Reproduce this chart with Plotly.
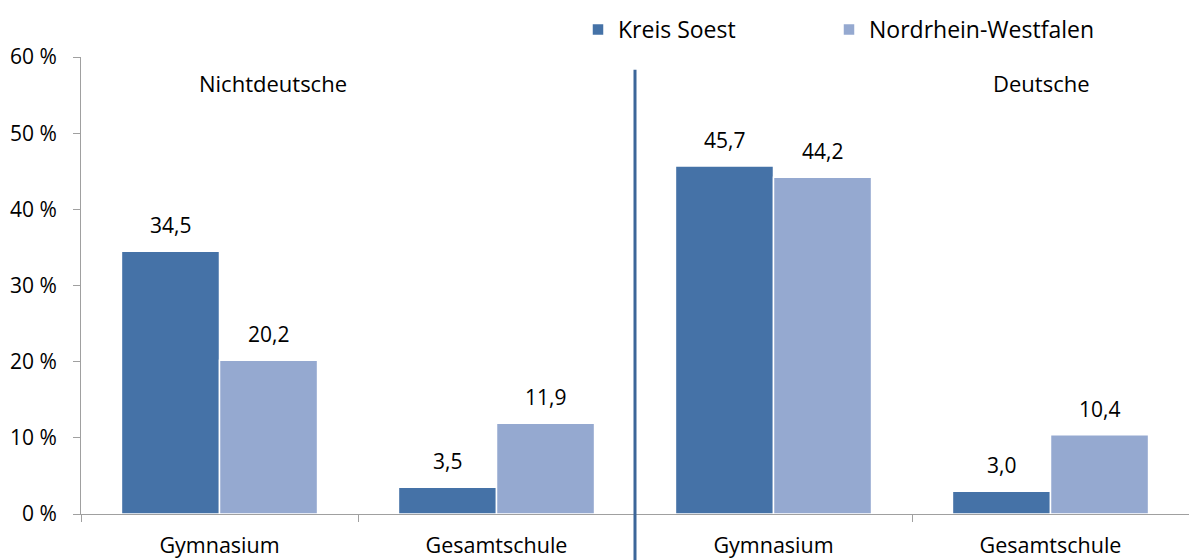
import plotly.graph_objects as go

categories = ["Gymnasium", "Gesamtschule", "Gymnasium", "Gesamtschule"]
kreis_soest = [34.5, 3.5, 45.7, 3.0]
nrw = [20.2, 11.9, 44.2, 10.4]
series_names = ["Kreis Soest", "Nordrhein-Westfalen"]
group_labels = ["Nichtdeutsche", "Deutsche"]
y_ticks = [0, 10, 20, 30, 40, 50, 60]

DARK = "#4572A7"
LIGHT = "#95A9D0"
FONT = "Open Sans"
BARGAP = 0.292

xpos = list(range(len(categories)))

def fmt(v):
    return f"{v:.1f}".replace(".", ",")

fig = go.Figure()
for name, vals, col, leg in [(series_names[0], kreis_soest, DARK, "legend"),
                             (series_names[1], nrw, LIGHT, "legend2")]:
    fig.add_trace(go.Bar(
        name=name, x=xpos, y=vals, legend=leg,
        marker=dict(color=col, line=dict(color="white", width=1.5)),
        hoverinfo="y",
    ))

half = (1 - BARGAP) / 4
for i, (a, b) in enumerate(zip(kreis_soest, nrw)):
    for off, v in [(-half, a), (half, b)]:
        fig.add_annotation(x=i + off, y=v, text=fmt(v), showarrow=False,
                           yanchor="bottom", yshift=10,
                           font=dict(family=FONT, size=21, color="black"))

fig.add_annotation(x=0.193, y=56.6, text=group_labels[0], showarrow=False,
                   font=dict(family=FONT, size=22, color="black"))
fig.add_annotation(x=2.966, y=56.6, text=group_labels[1], showarrow=False,
                   font=dict(family=FONT, size=22, color="black"))

# separator line between groups
fig.add_shape(type="line", xref="x", yref="paper", x0=1.5, x1=1.5, y0=-0.12, y1=0.972,
              line=dict(color="#3C6699", width=3), layer="above")

legend_common = dict(orientation="h", xref="container", xanchor="left",
                     yref="container", y=1.0, yanchor="top",
                     font=dict(family=FONT, size=23, color="black"),
                     bgcolor="rgba(0,0,0,0)")

fig.update_layout(
    width=1197, height=560,
    margin=dict(l=73, r=16, t=49, b=54, autoexpand=False),
    plot_bgcolor="white", paper_bgcolor="white",
    barmode="group", bargap=BARGAP, bargroupgap=0,
    font=dict(family=FONT, size=21, color="black"),
    showlegend=True,
    legend=dict(x=570 / 1197, **legend_common),
    legend2=dict(x=821 / 1197, **legend_common),
)
fig.update_xaxes(
    range=[-0.5, 3.5], tickvals=xpos, ticktext=categories,
    showline=True, linecolor="#A0A0A0", linewidth=1,
    ticks="", showgrid=False, zeroline=False, automargin=False,
    ticklabelstandoff=12,
    tickfont=dict(family=FONT, size=21.5, color="black"),
    minor=dict(tickvals=[-0.5, 0.5, 1.5, 2.5, 3.5], ticks="outside", ticklen=7,
               tickcolor="#A0A0A0", showgrid=False),
)
fig.update_yaxes(
    range=[0, 60], tickvals=y_ticks, ticktext=[f"{t} %" for t in y_ticks],
    showline=True, linecolor="#A0A0A0", linewidth=1,
    ticks="outside", ticklen=7, tickcolor="#A0A0A0",
    showgrid=False, zeroline=False, automargin=False,
    ticklabelstandoff=12,
    tickfont=dict(family=FONT, size=21, color="black"),
)

fig.write_html("out.html")
